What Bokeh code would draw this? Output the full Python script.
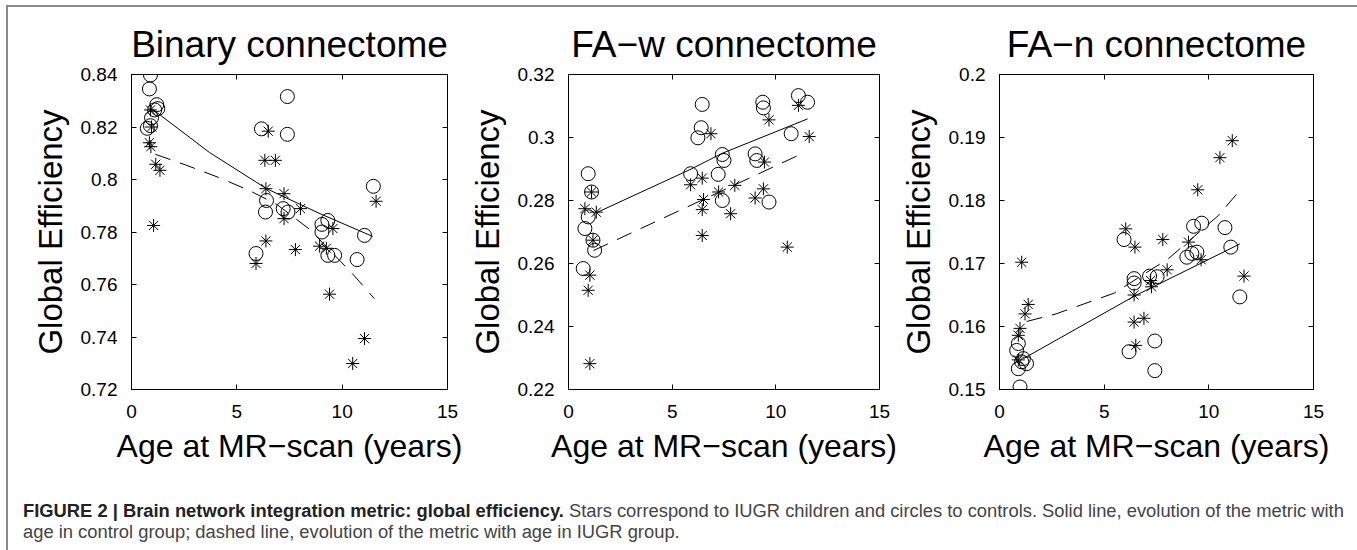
from bokeh.plotting import figure
from bokeh.layouts import row, column
from bokeh.models import Div, FixedTicker, PrintfTickFormatter, LinearAxis, Range1d, Spacer
from bokeh.embed import file_html
from bokeh.resources import INLINE

FONT = "Liberation Sans"

# ---------------- data ----------------
x_ticks = [0, 5, 10, 15]
titles = ["Binary connectome", "FA\u2212w connectome", "FA\u2212n connectome"]
x_label = "Age at MR\u2212scan (years)"
y_label = "Global Efficiency"

bin_y_ticks = [0.72, 0.74, 0.76, 0.78, 0.80, 0.82, 0.84]
faw_y_ticks = [0.22, 0.24, 0.26, 0.28, 0.30, 0.32]
fan_y_ticks = [0.15, 0.16, 0.17, 0.18, 0.19, 0.20]

# Binary connectome
bin_ctrl_age = [0.90, 0.85, 1.20, 1.10, 1.25, 0.95, 0.90, 0.75, 7.40, 6.17, 7.40, 11.48,
                6.41, 6.36, 7.20, 7.43, 9.04, 9.32, 9.04, 11.06, 5.91, 9.32, 9.64, 10.71]
bin_ctrl_eff = [0.8398, 0.8345, 0.8285, 0.8265, 0.8270, 0.8235, 0.8205, 0.8195, 0.8316, 0.8193,
                0.8172, 0.7974, 0.7920, 0.7876, 0.7889, 0.7876, 0.7829, 0.7844, 0.7800, 0.7787,
                0.7718, 0.7711, 0.7711, 0.7695]
bin_iugr_age = [0.90, 0.95, 0.85, 0.92, 1.15, 1.35, 1.05, 6.49, 6.33, 6.83, 6.38, 7.24,
                8.02, 7.24, 9.56, 6.38, 7.78, 8.93, 9.25, 11.61, 5.91, 9.40, 11.06, 10.50]
bin_iugr_eff = [0.8265, 0.8200, 0.8140, 0.8125, 0.8058, 0.8035, 0.7825, 0.8184, 0.8073, 0.8073,
                0.7965, 0.7946, 0.7889, 0.7851, 0.7813, 0.7766, 0.7733, 0.7746, 0.7738, 0.7917,
                0.7680, 0.7563, 0.7394, 0.7299]
bin_ctrl_fit_age = [0.98, 3.70, 6.41, 9.00, 11.45]
bin_ctrl_fit_eff = [0.8269, 0.8103, 0.7965, 0.7868, 0.7783]
bin_iugr_fit_age = [1.13, 2.55, 4.13, 5.54, 6.90, 8.46, 10.50, 11.53]
bin_iugr_fit_eff = [0.8096, 0.8056, 0.8008, 0.7960, 0.7905, 0.7810, 0.7640, 0.7546]

# FA-w connectome
faw_ctrl_age = [0.95, 1.11, 0.95, 0.79, 1.18, 1.26, 0.71, 6.45, 6.40, 6.24, 5.89, 7.42,
                7.50, 7.22, 7.42, 9.37, 9.40, 9.00, 9.08, 9.67, 10.74, 11.09, 11.53]
faw_ctrl_eff = [0.2885, 0.2827, 0.2748, 0.2711, 0.2674, 0.2642, 0.2584, 0.3105, 0.3031, 0.2999,
                0.2885, 0.2946, 0.2927, 0.2883, 0.2800, 0.3112, 0.3094, 0.2948, 0.2927, 0.2795,
                0.3012, 0.3133, 0.3112]
faw_iugr_age = [1.11, 0.79, 1.34, 1.18, 1.03, 0.95, 1.03, 6.87, 5.89, 6.45, 6.51, 6.45,
                6.45, 7.24, 7.82, 8.02, 9.00, 9.40, 9.45, 9.67, 11.09, 11.61, 10.55]
faw_iugr_eff = [0.2827, 0.2774, 0.2763, 0.2674, 0.2563, 0.2515, 0.2282, 0.3012, 0.2850, 0.2871,
                0.2803, 0.2771, 0.2689, 0.2827, 0.2758, 0.2848, 0.2808, 0.2837, 0.2922, 0.3056,
                0.3102, 0.3003, 0.2652]
faw_ctrl_fit_age = [1.34, 5.92, 7.42, 11.53]
faw_ctrl_fit_eff = [0.2761, 0.2900, 0.2950, 0.3059]
faw_iugr_fit_age = [1.20, 11.30]
faw_iugr_fit_eff = [0.2641, 0.2950]

# FA-n connectome
fan_ctrl_age = [0.90, 0.82, 1.14, 1.06, 1.29, 0.90, 0.98, 5.95, 6.43, 6.43, 6.19, 7.17,
                7.53, 7.42, 7.42, 9.27, 9.66, 8.95, 9.19, 9.43, 10.77, 11.05, 11.48]
fan_ctrl_eff = [0.1573, 0.1562, 0.1549, 0.1544, 0.1541, 0.1533, 0.1504, 0.1738, 0.1676, 0.1669,
                0.1560, 0.1680, 0.1679, 0.1577, 0.1530, 0.1759, 0.1764, 0.1710, 0.1716, 0.1718,
                0.1757, 0.1726, 0.1647]
fan_iugr_age = [1.06, 1.37, 1.22, 0.98, 0.90, 0.90, 6.03, 6.47, 6.43, 6.43, 6.90, 6.51,
                7.22, 7.26, 7.80, 8.01, 9.03, 9.63, 9.47, 10.53, 11.12, 11.68]
fan_iugr_eff = [0.1702, 0.1635, 0.1620, 0.1597, 0.1586, 0.1547, 0.1755, 0.1726, 0.1650, 0.1607,
                0.1613, 0.1570, 0.1673, 0.1663, 0.1738, 0.1690, 0.1734, 0.1706, 0.1817, 0.1868,
                0.1895, 0.1680]
fan_ctrl_fit_age = [1.14, 6.43, 11.48]
fan_ctrl_fit_eff = [0.1549, 0.1648, 0.1731]
fan_iugr_fit_age = [1.30, 2.70, 5.48, 8.08, 10.45, 11.56]
fan_iugr_fit_eff = [0.1608, 0.1620, 0.1653, 0.1708, 0.1776, 0.1819]

caption_bold = "FIGURE 2 | Brain network integration metric: global efficiency."
caption_line1 = " Stars correspond to IUGR children and circles to controls. Solid line, evolution of the metric with"
caption_line2 = "age in control group; dashed line, evolution of the metric with age in IUGR group."


def style_axis(ax, ticks, standoff=14, show_labels=True):
    ax.ticker = FixedTicker(ticks=ticks)
    ax.formatter = PrintfTickFormatter(format="%g")
    ax.major_tick_in = 5
    ax.major_tick_out = 0
    ax.major_tick_line_color = "black"
    ax.minor_tick_line_color = None
    ax.axis_line_color = "black"
    if show_labels:
        ax.major_label_text_font = FONT
        ax.major_label_text_font_size = "19px"
        ax.major_label_text_color = "black"
        ax.major_label_standoff = standoff
    else:
        ax.major_label_text_font_size = "0px"
        ax.major_label_text_alpha = 0
        ax.major_label_standoff = 0


def make_panel(title, ylo, yhi, yticks, cx, cy, sx, sy, fcx, fcy, fsx, fsy, width, left, right):
    p = figure(width=width, height=462, x_range=Range1d(0, 15), y_range=Range1d(ylo, yhi),
               output_backend="svg", toolbar_location=None,
               min_border_left=left, min_border_right=right,
               min_border_top=67, min_border_bottom=80)
    p.background_fill_color = "white"
    p.border_fill_color = "white"
    p.outline_line_color = "black"
    p.outline_line_width = 1
    p.xgrid.visible = False
    p.ygrid.visible = False

    p.title.text = title
    p.title.text_font = FONT
    p.title.text_font_size = "37px"
    p.title.text_font_style = "normal"
    p.title.text_color = "black"
    p.title.align = "center"
    p.title.standoff = 19

    style_axis(p.xaxis[0], x_ticks, standoff=15)
    style_axis(p.yaxis[0], yticks, standoff=14)
    p.xaxis.axis_label = x_label
    p.yaxis.axis_label = y_label
    xa, ya = p.xaxis[0], p.yaxis[0]
    for ax in (xa, ya):
        ax.axis_label_text_font = FONT
        ax.axis_label_text_font_style = "normal"
        ax.axis_label_text_color = "black"
    xa.axis_label_text_font_size = "32px"
    ya.axis_label_text_font_size = "33px"
    xa.axis_label_standoff = 7
    ya.axis_label_standoff = 9

    top = LinearAxis()
    style_axis(top, x_ticks, show_labels=False)
    p.add_layout(top, "above")
    rgt = LinearAxis()
    style_axis(rgt, yticks, show_labels=False)
    p.add_layout(rgt, "right")

    p.line(fcx, fcy, line_color="black", line_width=1)
    p.line(fsx, fsy, line_color="black", line_width=1, line_dash="16 10")
    p.scatter(cx, cy, marker="circle", size=14, fill_color=None, line_color="black", line_width=1)
    p.scatter(sx, sy, marker="asterisk", size=13, line_color="black", line_width=1)
    return p


p1 = make_panel(titles[0], 0.72, 0.84, bin_y_ticks, bin_ctrl_age, bin_ctrl_eff, bin_iugr_age, bin_iugr_eff,
                bin_ctrl_fit_age, bin_ctrl_fit_eff, bin_iugr_fit_age, bin_iugr_fit_eff, 457, 123, 18)
p2 = make_panel(titles[1], 0.22, 0.32, faw_y_ticks, faw_ctrl_age, faw_ctrl_eff, faw_iugr_age, faw_iugr_eff,
                faw_ctrl_fit_age, faw_ctrl_fit_eff, faw_iugr_fit_age, faw_iugr_fit_eff, 431, 98, 17)
p3 = make_panel(titles[2], 0.15, 0.20, fan_y_ticks, fan_ctrl_age, fan_ctrl_eff, fan_iugr_age, fan_iugr_eff,
                fan_ctrl_fit_age, fan_ctrl_fit_eff, fan_iugr_fit_age, fan_iugr_fit_eff, 459, 100, 42)

caption_html = (
    '<div style="font-family: \'Liberation Sans\', Arial, sans-serif; font-size: 18.35px; line-height: 21px; '
    'white-space: nowrap; padding: 26px 0 0 10px; color: #444;">'
    '<span style="font-weight: bold; color: #222;">' + caption_bold + '</span>' + caption_line1 +
    '<br>' + caption_line2 + '</div>'
)
cap = Div(text=caption_html, width=1347, height=81)

inner = column(row(p1, p2, p3), cap,
               styles={"border-top": "2px solid #8a8a8a", "border-left": "2px solid #8a8a8a",
                       "border-right": "2px solid #8a8a8a"})
layout = column(Spacer(height=5), row(Spacer(width=6), inner))

open("out.html", "w").write(file_html(layout, INLINE))
